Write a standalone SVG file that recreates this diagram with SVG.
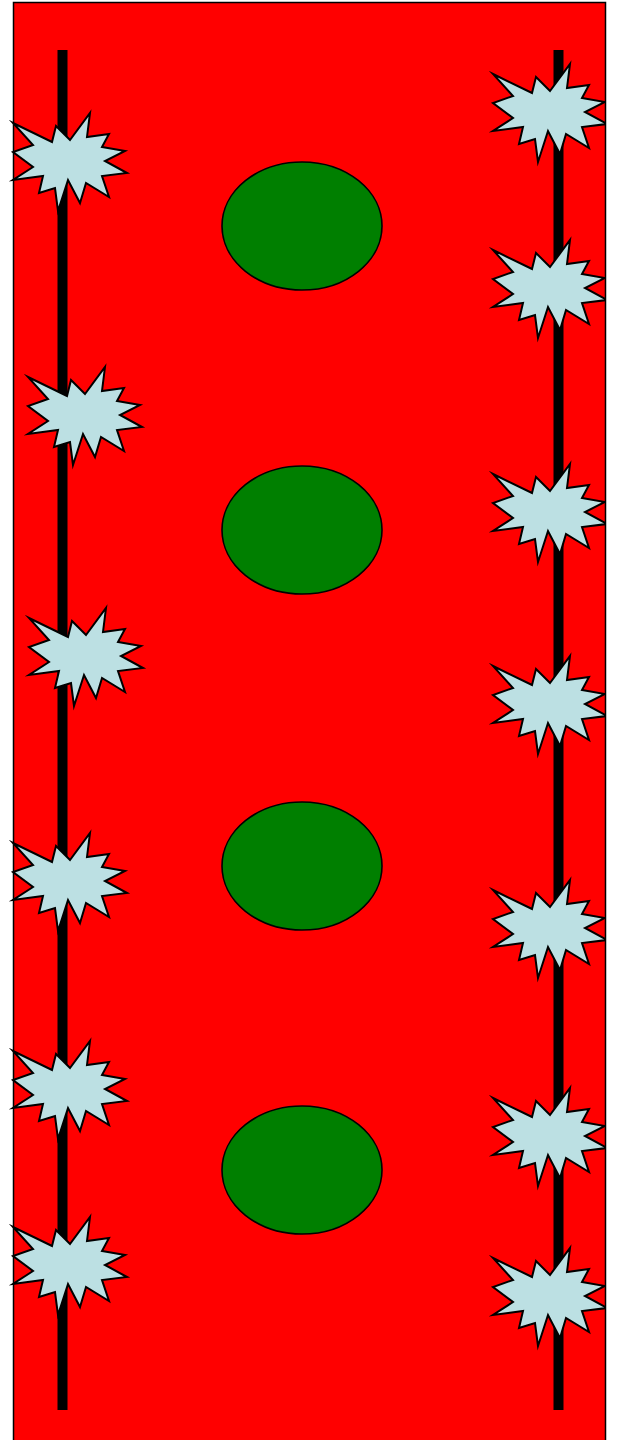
<svg xmlns="http://www.w3.org/2000/svg" xmlns:xlink="http://www.w3.org/1999/xlink" width="624" height="1440" viewBox="0 0 624 1440">
<style>
.bg{fill:#ff0000;stroke:#000;stroke-width:1.5}
.bar{fill:#000}
.cell{fill:#007f00;stroke:#000;stroke-width:1.6}
.burst{fill:#bce0e3;stroke:#000;stroke-width:2;stroke-linejoin:miter;stroke-miterlimit:12}
</style>
<defs>
<path id="star" d="M0,10 L39,29 L43,13 L57,27 L77,0 L74,24 L96,21 L89,34 L112,38 L92,48 L114,60 L89,63 L96,84 L73,70 L67,90 L55,67 L45,98 L42,75 L26,80 L30,63 L0,67 L20,54 L0,39 L20,32 Z"/>
<clipPath id="pageclip"><rect x="0" y="0" width="606" height="1440"/></clipPath>
</defs>
<rect width="624" height="1440" fill="#fff"/>
<g id="vessel">
<rect class="bg" x="13.5" y="2.5" width="592" height="1460"/>
</g>
<g id="walls">
<rect class="bar" x="57.5" y="50" width="10" height="1360"/>
<rect class="bar" x="553.5" y="50" width="10" height="1360"/>
</g>
<g id="cells">
<ellipse id="cell1" class="cell" cx="302" cy="226" rx="80" ry="64"/>
<ellipse id="cell2" class="cell" cx="302" cy="530" rx="80" ry="64"/>
<ellipse id="cell3" class="cell" cx="302" cy="866" rx="80" ry="64"/>
<ellipse id="cell4" class="cell" cx="302" cy="1170" rx="80" ry="64"/>
</g>
<g id="left-bursts">
<g id="L1"><use xlink:href="#star" class="burst" x="13" y="113"/></g>
<g id="L2"><use xlink:href="#star" class="burst" x="28" y="367"/></g>
<g id="L3"><use xlink:href="#star" class="burst" x="29" y="608"/></g>
<g id="L4"><use xlink:href="#star" class="burst" x="13" y="833"/></g>
<g id="L5"><use xlink:href="#star" class="burst" x="13" y="1041"/></g>
<g id="L6"><use xlink:href="#star" class="burst" x="13" y="1217"/></g>
</g>
<g id="right-bursts" clip-path="url(#pageclip)">
<g id="R1"><use xlink:href="#star" class="burst" x="493" y="64"/></g>
<g id="R2"><use xlink:href="#star" class="burst" x="493" y="240"/></g>
<g id="R3"><use xlink:href="#star" class="burst" x="493" y="464"/></g>
<g id="R4"><use xlink:href="#star" class="burst" x="493" y="656"/></g>
<g id="R5"><use xlink:href="#star" class="burst" x="493" y="880"/></g>
<g id="R6"><use xlink:href="#star" class="burst" x="493" y="1088"/></g>
<g id="R7"><use xlink:href="#star" class="burst" x="493" y="1248"/></g>
</g>
</svg>
